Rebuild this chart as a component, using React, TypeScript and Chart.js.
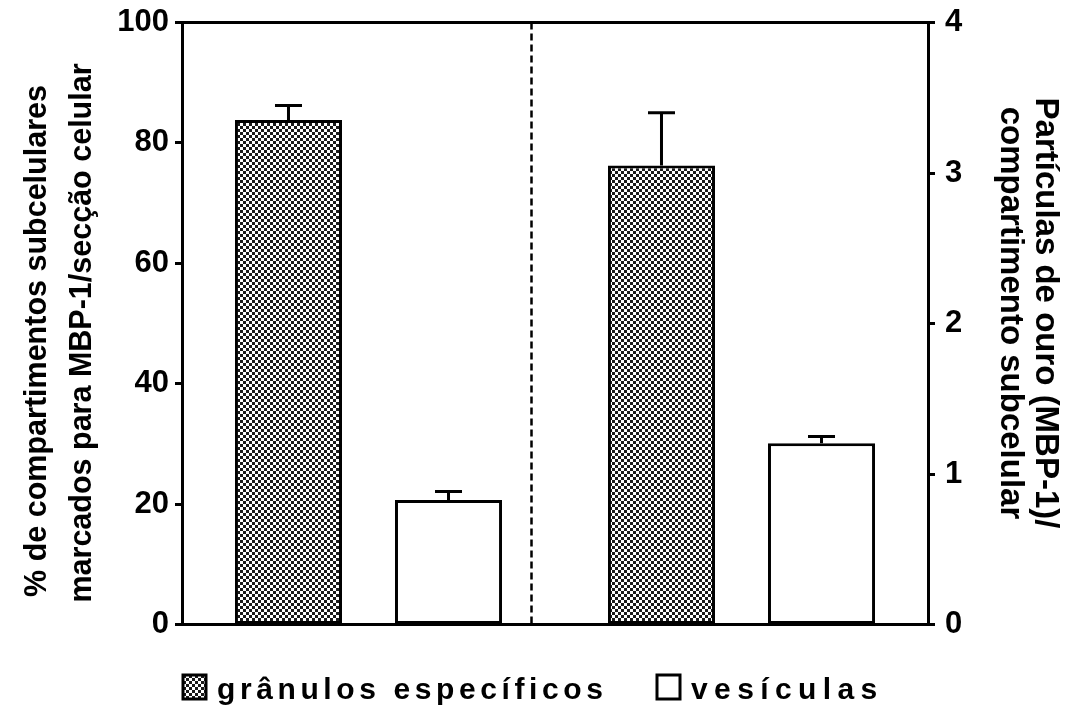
import React, { useEffect, useRef } from "react";
import { Chart, registerables } from "chart.js";

Chart.register(...registerables);

// ---- data ----
const groups = ["% por secção", "partículas por compartimento"];
const seriesNames = ["grânulos específicos", "vesículas"];
const percentValues = [83.8, 20.7];
const percentErrors = [2.4, 1.4];
const particleValues = [3.05, 1.205];
const particleErrors = [0.35, 0.045];
const leftTicks = [0, 20, 40, 60, 80, 100];
const rightTicks = [0, 1, 2, 3, 4];
const leftTitle = ["% de compartimentos subcelulares", "marcados para MBP-1/secção celular"];
const rightTitle = ["Partículas de ouro (MBP-1)/", "compartimento subcelular"];

const FONT = "'Liberation Sans', Arial, sans-serif";

function makePattern(): CanvasPattern | string {
  const c = document.createElement("canvas");
  c.width = 6;
  c.height = 6;
  const g = c.getContext("2d");
  if (!g) return "#777";
  g.fillStyle = "#ffffff";
  g.fillRect(0, 0, 6, 6);
  g.fillStyle = "#1a1a1a";
  g.fillRect(0, 0, 3, 3);
  g.fillRect(3, 3, 3, 3);
  const p = g.createPattern(c, "repeat");
  return p || "#777";
}

export default function App() {
  const ref = useRef<HTMLCanvasElement | null>(null);

  useEffect(() => {
    const canvas = ref.current;
    if (!canvas) return;
    const pattern = makePattern();
    const errorsByDataset = [
      [percentErrors[0], null],
      [percentErrors[1], null],
      [null, particleErrors[0]],
      [null, particleErrors[1]],
    ];

    const decor = {
      id: "decor",
      afterDatasetsDraw(chart: any) {
        const ctx = chart.ctx;
        const area = chart.chartArea;
        ctx.save();
        // error bars (upper only)
        chart.data.datasets.forEach((ds: any, di: number) => {
          const meta = chart.getDatasetMeta(di);
          const yScale = chart.scales[ds.yAxisID];
          meta.data.forEach((el: any, i: number) => {
            const v = ds.data[i];
            const e = errorsByDataset[di][i];
            if (v == null || e == null) return;
            const yTop = yScale.getPixelForValue(v + e);
            ctx.strokeStyle = "#000";
            ctx.lineWidth = 3;
            ctx.beginPath();
            ctx.moveTo(el.x, el.y);
            ctx.lineTo(el.x, yTop);
            ctx.moveTo(el.x - 13.5, yTop);
            ctx.lineTo(el.x + 13.5, yTop);
            ctx.stroke();
          });
        });
        // frame top / bottom
        ctx.strokeStyle = "#000";
        ctx.lineWidth = 3;
        ctx.beginPath();
        ctx.moveTo(area.left, area.top);
        ctx.lineTo(area.right, area.top);
        ctx.moveTo(area.left - 7, area.bottom);
        ctx.lineTo(area.right + 7, area.bottom);
        ctx.stroke();
        // dashed separator
        const xs = area.left + (area.right - area.left) * 0.4685;
        ctx.lineWidth = 2.5;
        ctx.setLineDash([7, 4]);
        ctx.beginPath();
        ctx.moveTo(xs, area.top);
        ctx.lineTo(xs, area.bottom);
        ctx.stroke();
        ctx.setLineDash([]);
        ctx.restore();
      },
      afterDraw(chart: any) {
        const ctx = chart.ctx;
        ctx.save();
        // axis titles
        ctx.fillStyle = "#000";
        ctx.textAlign = "center";
        ctx.textBaseline = "middle";
        ctx.font = `bold 30.5px ${FONT}`;
        const leftPos = [
          [38, 341],
          [83, 333],
        ];
        leftTitle.forEach((t, i) => {
          ctx.save();
          ctx.translate(leftPos[i][0], leftPos[i][1]);
          ctx.rotate(-Math.PI / 2);
          ctx.fillText(t, 0, 0);
          ctx.restore();
        });
        ctx.font = `bold 33px ${FONT}`;
        const rightPos = [
          [1045, 313],
          [1010, 313],
        ];
        rightTitle.forEach((t, i) => {
          ctx.save();
          ctx.translate(rightPos[i][0], rightPos[i][1]);
          ctx.rotate(Math.PI / 2);
          ctx.fillText(t, 0, 0);
          ctx.restore();
        });
        // legend
        const items = [
          { x: 183, fill: pattern, label: seriesNames[0], spacing: "4.6px" },
          { x: 657, fill: "#ffffff", label: seriesNames[1], spacing: "6.4px" },
        ];
        items.forEach((it) => {
          ctx.fillStyle = it.fill;
          ctx.fillRect(it.x, 675, 23, 24);
          ctx.strokeStyle = "#000";
          ctx.lineWidth = 3;
          ctx.strokeRect(it.x, 675, 23, 24);
          ctx.fillStyle = "#000";
          ctx.font = `bold 30px ${FONT}`;
          (ctx as any).letterSpacing = it.spacing;
          ctx.textBaseline = "alphabetic";
          ctx.textAlign = "left";
          ctx.fillText(it.label, it.x + 34, 699);
        });
        ctx.restore();
      },
    };

    const chart = new Chart(canvas, {
      type: "bar",
      data: {
        labels: groups,
        datasets: [
          {
            label: seriesNames[0],
            data: [percentValues[0], null],
            yAxisID: "y",
            backgroundColor: pattern as any,
          },
          {
            label: seriesNames[1],
            data: [percentValues[1], null],
            yAxisID: "y",
            backgroundColor: "#ffffff",
          },
          {
            label: seriesNames[0],
            data: [null, particleValues[0]],
            yAxisID: "y1",
            backgroundColor: pattern as any,
          },
          {
            label: seriesNames[1],
            data: [null, particleValues[1]],
            yAxisID: "y1",
            backgroundColor: "#ffffff",
          },
        ] as any,
      },
      options: {
        animation: false,
        responsive: false,
        skipNull: true,
        datasets: {
          bar: {
            borderColor: "#000",
            borderWidth: 3,
            borderSkipped: false,
            categoryPercentage: 0.858,
            barPercentage: 0.669,
          } as any,
        },
        layout: { padding: { top: 22.5, bottom: 82.5, left: 0, right: 0 } },
        plugins: {
          legend: { display: false },
          tooltip: { enabled: false },
        },
        scales: {
          x: { display: false },
          y: {
            position: "left",
            min: 0,
            max: 100,
            afterBuildTicks: (s: any) => {
              s.ticks = leftTicks.map((v) => ({ value: v }));
            },
            afterFit: (s: any) => {
              s.width = 182;
              s.paddingTop = 0;
              s.paddingBottom = 0;
            },
            ticks: {
              color: "#000",
              font: { family: FONT, size: 31, weight: "bold" },
              padding: 6,
            },
            grid: {
              drawOnChartArea: false,
              drawTicks: true,
              tickLength: 7,
              tickWidth: 3,
              tickColor: "#000",
            },
            border: { display: true, color: "#000", width: 3 },
            title: { display: false },
          },
          y1: {
            position: "right",
            min: 0,
            max: 4,
            afterBuildTicks: (s: any) => {
              s.ticks = rightTicks.map((v) => ({ value: v }));
            },
            afterFit: (s: any) => {
              s.width = 139;
              s.paddingTop = 0;
              s.paddingBottom = 0;
            },
            ticks: {
              color: "#000",
              font: { family: FONT, size: 31, weight: "bold" },
              padding: 10,
            },
            grid: {
              drawOnChartArea: false,
              drawTicks: true,
              tickLength: 7,
              tickWidth: 3,
              tickColor: "#000",
            },
            border: { display: true, color: "#000", width: 3 },
            title: { display: false },
          },
        },
      } as any,
      plugins: [decor],
    });

    return () => chart.destroy();
  }, []);

  return (
    <div style={{ position: "absolute", left: 0, top: 0, width: 1067, height: 707, background: "#fff" }}>
      <canvas ref={ref} width={1067} height={707} style={{ display: "block" }} />
    </div>
  );
}
